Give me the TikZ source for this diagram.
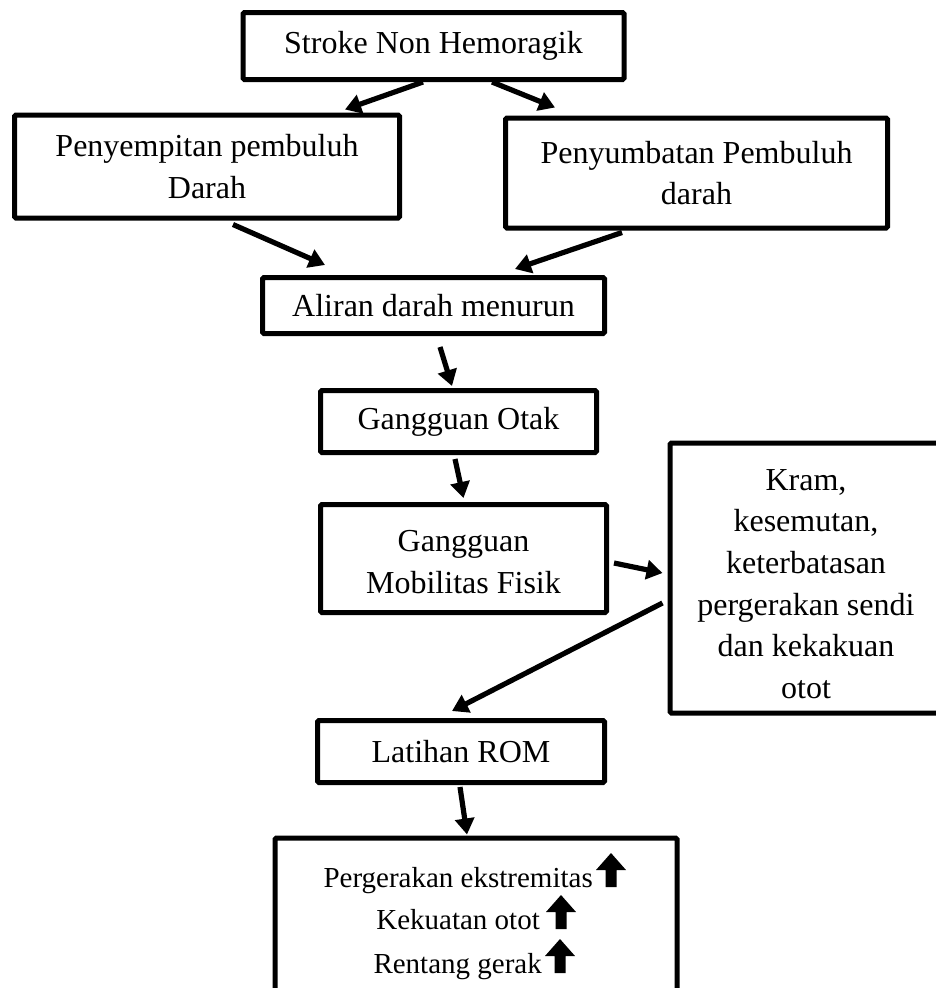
\documentclass[tikz,border=0pt]{standalone}
\usepackage{fontspec}
\setmainfont{Liberation Serif}
\usetikzlibrary{arrows.meta,calc}
\tikzset{
  box/.style={draw=black, line width=5pt, rounded corners=1.5pt, inner sep=0pt,
    align=center, font=\fontsize{32}{41.5}\selectfont},
  txt/.style={inner sep=0pt, align=center, font=\fontsize{32}{41.6}\selectfont},
  conn/.style={line width=5.2pt, -{Triangle[length=16pt,width=19pt]}},
  small/.style={inner sep=0pt, font=\fontsize{29}{36}\selectfont},
  uparr/.pic={\fill[black] (-5.5,0) -- (-5.5,-17) -- (-15,-17) -- (0,-34) -- (15,-17) -- (5.5,-17) -- (5.5,0) -- cycle;}
}
\begin{document}
\begin{tikzpicture}[x=1pt,y=-1pt]
\useasboundingbox (0,0) rectangle (936,988);
\clip (0,0) rectangle (936,988);
\fill[white] (0,0) rectangle (936,988);

\node[box, minimum width=381pt, minimum height=67pt] (s1) at (433.5,46) {Stroke Non Hemoragik};
\node[box, minimum width=385pt, minimum height=103pt] (p1) at (207,166.5) {Penyempitan pembuluh\\Darah};
\node[box, minimum width=382pt, minimum height=110pt] (p2) at (696.5,173) {Penyumbatan Pembuluh\\darah};
\node[box, minimum width=342pt, minimum height=56pt] (al) at (433.5,305.5) {Aliran darah menurun};
\node[box, minimum width=276pt, minimum height=62pt] (ot) at (458.5,421.5) {Gangguan Otak};
\node[box, minimum width=286pt, minimum height=108pt] (mb) at (463.5,558.5) {};
\node[txt] (mbt) at (463.5,562) {Gangguan\\Mobilitas Fisik};
\node[box, minimum width=272pt, minimum height=270pt] (kr) at (806,578) {};
\node[txt] (krt) at (806,584) {Kram,\\kesemutan,\\keterbatasan\\pergerakan sendi\\dan kekakuan\\otot};
\node[box, minimum width=287pt, minimum height=62pt] (lr) at (461,751.5) {Latihan ROM};
\node[box, minimum width=402pt, minimum height=180pt] (bt) at (476,928) {};

\node[small, anchor=base east] (l1) at (593,887) {Pergerakan ekstremitas};
\node[small, anchor=base east] (l2) at (540,929) {Kekuatan otot};
\node[small, anchor=base east] (l3) at (542,973) {Rentang gerak};
\pic at ([xshift=18pt]l1.base east) {uparr};
\pic at ([xshift=21pt]l2.base east) {uparr};
\pic at ([xshift=18pt]l3.base east) {uparr};

\draw[conn] ([xshift=-10.5pt]s1.south) -- ([xshift=138pt,yshift=3pt]p1.north);
\draw[conn] ([xshift=58.5pt]s1.south) -- ([xshift=-141.5pt,yshift=8pt]p2.north);
\draw[conn] ([xshift=26pt,yshift=-4pt]p1.south) -- ([xshift=-108.5pt,yshift=10pt]al.north);
\draw[conn] ([xshift=-74.5pt,yshift=-2pt]p2.south) -- ([xshift=81.5pt,yshift=6pt]al.north);
\draw[conn] ([xshift=6.5pt,yshift=-11pt]al.south) -- ([xshift=-6.5pt,yshift=2pt]ot.north);
\draw[conn] ([xshift=-3.5pt,yshift=-4pt]ot.south) -- ([yshift=4pt]mb.north);
\draw[conn] ([xshift=5pt,yshift=-4.5pt]mb.east) -- ([xshift=-5pt,yshift=5pt]kr.west);
\draw[conn] ([xshift=-5pt,yshift=-25pt]kr.west) -- ([xshift=-9pt,yshift=7pt]lr.north);
\draw[conn] ([xshift=-1pt,yshift=-2pt]lr.south) -- ([xshift=-9pt,yshift=1pt]bt.north);
\end{tikzpicture}
\end{document}
